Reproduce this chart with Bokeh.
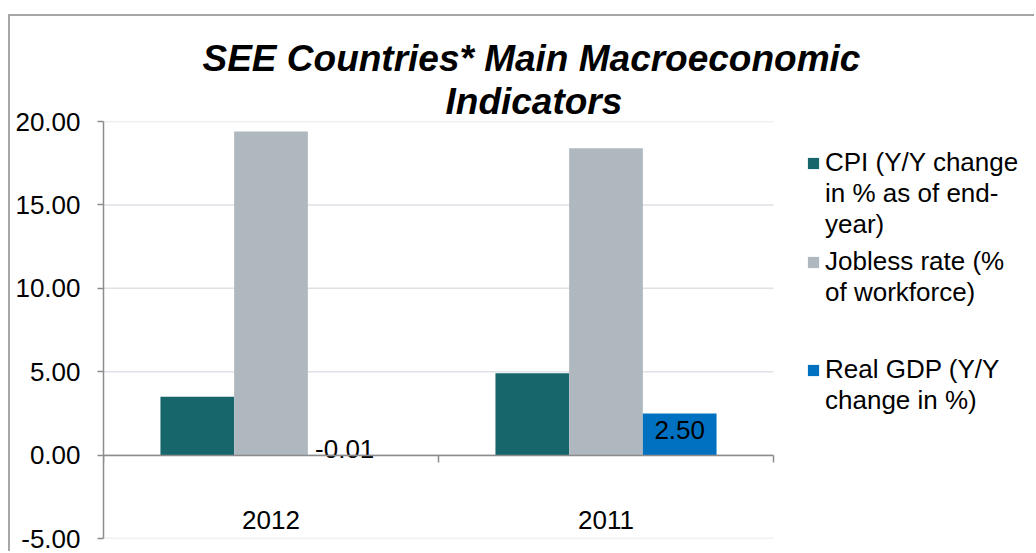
from bokeh.plotting import figure
from bokeh.models import (ColumnDataSource, Range1d, LinearAxis, FixedTicker,
                          NumeralTickFormatter, Legend, LegendItem, Title)
from bokeh.transform import dodge
from bokeh.core.properties import value
from bokeh.embed import file_html
from bokeh.resources import INLINE

years = ["2012", "2011"]
cpi = [3.5, 4.9]
jobless = [19.4, 18.4]
gdp = [-0.01, 2.50]
series_names = ["CPI (Y/Y change\nin % as of end-\nyear)",
                "Jobless rate (%\nof workforce)",
                "Real GDP (Y/Y\nchange in %)"]
title_lines = ["SEE Countries* Main Macroeconomic", "Indicators"]
y_ticks = [-5, 0, 5, 10, 15, 20]

C_CPI = "#17666c"
C_JOB = "#aeb8be"
C_GDP = "#0070c0"
AX = "#8c8c8c"
GRID = "#dde2e7"
FONT = "Liberation Sans"

# layout (pixels)
W, H = 1026, 537
ML, MT, MB = 93, 105, 15
PLOT_W = 670                  # width of the bar area
FRAME_W = W - ML              # frame runs to the right edge so the legend is not clipped
FRAME_H = H - MT - MB

n = len(years)
centers = [i + 0.5 for i in range(n)]
src = ColumnDataSource(dict(xc=centers, year=years, cpi=cpi, jobless=jobless, gdp=gdp,
                            lbl=["%.2f" % v for v in gdp],
                            yoff=[-6, 17]))

p = figure(x_range=Range1d(0, n * FRAME_W / PLOT_W), y_range=Range1d(-5, 20),
           width=W, height=H, output_backend="svg", toolbar_location=None,
           x_axis_location=None, title=None,
           min_border_left=ML, min_border_right=0, min_border_top=MT, min_border_bottom=MB)
p.styles = {"margin-left": "10px", "margin-top": "16px", "box-shadow": "-2px -2px 0 0 #a6a6a6"}
p.outline_line_color = None
p.background_fill_color = "white"
p.border_fill_color = "white"
p.xgrid.visible = False
p.ygrid.visible = False

# horizontal gridlines over the bar area only
p.segment(x0=0, x1=n, y0=y_ticks, y1=y_ticks, line_color=GRID, line_width=1.5, level="underlay")

bw = 0.22
r1 = p.vbar(x=dodge("xc", -bw), top="cpi", width=bw, source=src, fill_color=C_CPI, line_color=None)
r2 = p.vbar(x=dodge("xc", 0), top="jobless", width=bw, source=src, fill_color=C_JOB, line_color=None)
r3 = p.vbar(x=dodge("xc", bw), top="gdp", width=bw, source=src, fill_color=C_GDP, line_color=None)
blank = p.vbar(x=[], top=[], width=bw, fill_alpha=0, line_alpha=0)

p.text(x=dodge("xc", bw), y="gdp", text="lbl", source=src,
       y_offset="yoff", text_align="center", text_baseline="middle",
       text_font=value(FONT), text_font_size="26px", text_color="black")

# y axis
ya = p.yaxis[0]
ya.ticker = FixedTicker(ticks=y_ticks)
ya.formatter = NumeralTickFormatter(format="0.00")
ya.major_label_text_font = FONT
ya.major_label_text_font_size = "26px"
ya.major_label_text_color = "black"
ya.axis_line_color = AX
ya.axis_line_width = 1.5
ya.major_tick_line_color = AX
ya.major_tick_line_width = 1.5
ya.major_tick_out = 6
ya.major_tick_in = 0
ya.minor_tick_line_color = None
ya.major_label_standoff = 17

# zero line with category boundary ticks
za = LinearAxis(fixed_location=0, bounds=(0, n), ticker=FixedTicker(ticks=list(range(n + 1))))
za.axis_line_color = AX
za.axis_line_width = 1.5
za.major_tick_line_color = AX
za.major_tick_line_width = 1.5
za.major_tick_out = 7
za.major_tick_in = 0
za.minor_tick_line_color = None
za.major_label_text_font_size = "0px"
za.major_label_text_color = None
p.add_layout(za, "below")

# category labels
xa = LinearAxis(fixed_location=0, ticker=FixedTicker(ticks=centers),
                major_label_overrides={c: y for c, y in zip(centers, years)})
xa.axis_line_color = None
xa.major_tick_line_color = None
xa.minor_tick_line_color = None
xa.major_label_text_font = FONT
xa.major_label_text_font_size = "26px"
xa.major_label_text_color = "black"
xa.major_label_standoff = 50
p.add_layout(xa, "below")

# title, two centered lines (nearest to frame first)
t2 = Title(text=title_lines[1], align="left", offset=342, text_font=FONT, text_font_size="37px",
           text_font_style="bold italic", text_color="black", standoff=0)
t1 = Title(text=title_lines[0], align="left", offset=99, text_font=FONT, text_font_size="37px",
           text_font_style="bold italic", text_color="black", standoff=0)
p.add_layout(t2, "above")
p.add_layout(t1, "above")

# legend: one block per series, one line per item, square beside the first line
LINE_H = 30
leg_x = 703                       # from frame left
leg_tops = [150, 248, 356]        # top of each block in page pixels
for name, rend, top in zip(series_names, [r1, r2, r3], leg_tops):
    lines = name.split("\n")
    items = [LegendItem(label=ln, renderers=[rend if k == 0 else blank]) for k, ln in enumerate(lines)]
    block_h = LINE_H * len(lines)
    top_in_frame = top - 16 - MT
    lg = Legend(items=items, location=(leg_x, FRAME_H - top_in_frame - block_h), orientation="vertical")
    lg.label_text_font = FONT
    lg.label_text_font_size = "26px"
    lg.label_text_color = "black"
    lg.label_text_line_height = 1.1
    lg.label_height = LINE_H
    lg.glyph_width = 14
    lg.glyph_height = 14
    lg.label_standoff = 5
    lg.padding = 0
    lg.margin = 0
    lg.spacing = 0
    lg.border_line_color = None
    lg.background_fill_color = None
    p.add_layout(lg, "center")

open("out.html", "w").write(file_html(p, INLINE))
